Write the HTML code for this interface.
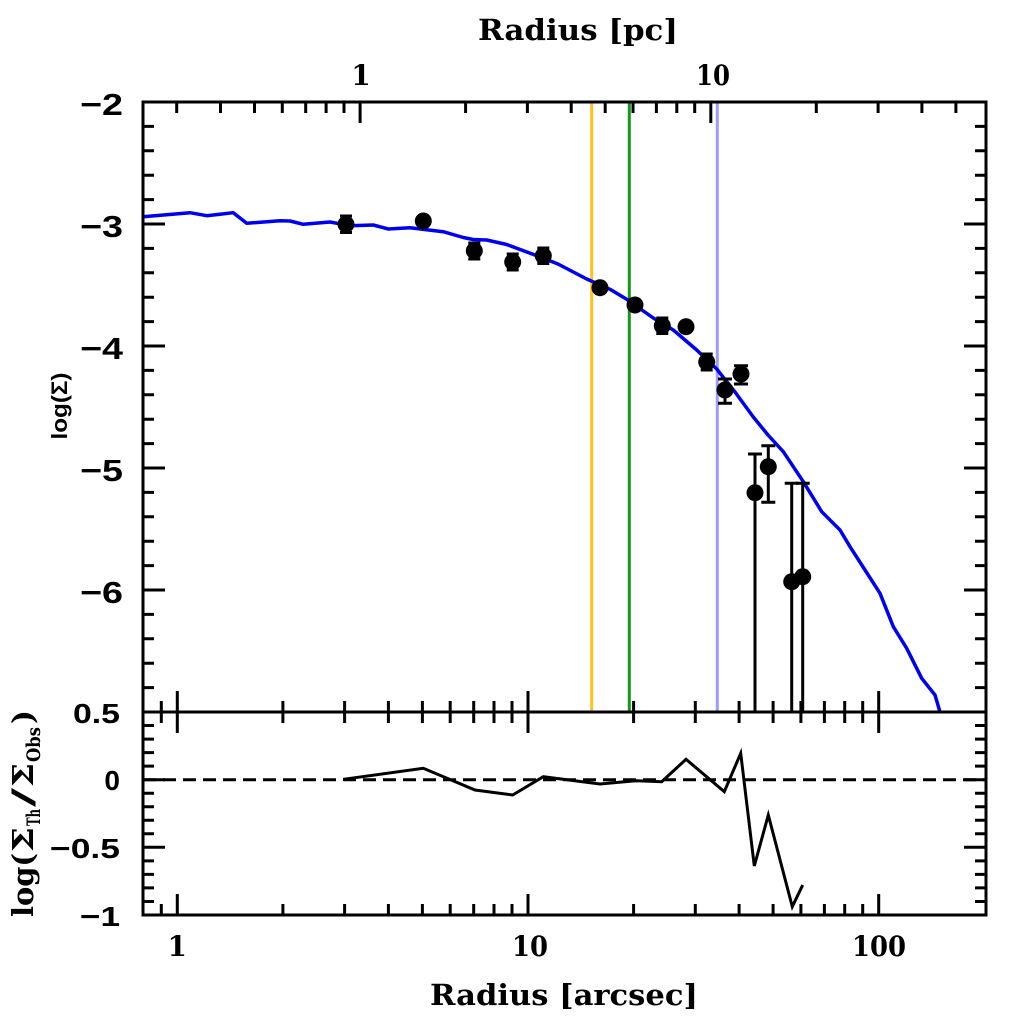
<!DOCTYPE html>
<html>
<head>
<meta charset="utf-8">
<style>
  html, body { margin: 0; padding: 0; background: #ffffff; }
  svg { display: block; }
  .ser { font-family: "DejaVu Serif", "Liberation Serif", serif; font-weight: bold; fill: #000; }
  .san { font-family: "Liberation Sans", "DejaVu Sans", sans-serif; font-weight: bold; fill: #000; }
</style>
</head>
<body>
<svg width="1024" height="1024" viewBox="0 0 1024 1024" xmlns="http://www.w3.org/2000/svg">
  <rect x="0" y="0" width="1024" height="1024" fill="#ffffff"/>

  <!-- vertical reference lines -->
  <line x1="591.7" y1="102" x2="591.7" y2="712" stroke="#FFC21A" stroke-width="3"/>
  <line x1="629.3" y1="102" x2="629.3" y2="712" stroke="#139A13" stroke-width="3"/>
  <line x1="717.3" y1="102" x2="717.3" y2="712" stroke="#9C9CFF" stroke-width="3"/>

  <!-- model curve -->
  <polyline fill="none" stroke="#0000F0" stroke-width="3.5" stroke-linejoin="round"
    points="143,216.7 190,212.7 206.7,215.7 220,214.3 233.3,212.7 246.7,223.3 280,220.7 290,221 303.3,224.3 330,222 350,225.7 373.3,225 388.3,229 410,227.7 443.3,231.7 463.3,237.5 473.3,239.5 486.7,240 506.7,244.5 536.7,255.7 558,264 586.7,279 610,289.3 626.7,299.3 653.3,318 673.3,330 696.7,350 716.7,369 735,392 753.3,417 768,435 783.3,451.7 803.3,481.7 821.7,511.7 840,530 850,546.7 865,570 880,593.3 893.3,626.7 906.7,648.3 921.7,678.3 935,695 940,712"/>

  <!-- error bars -->
  <g stroke="#000" stroke-width="3" fill="none">
    <path d="M346 216V232.5 M340 216H352 M340 232.5H352"/>
    <path d="M474.3 243V259 M468.3 243H480.3 M468.3 259H480.3"/>
    <path d="M512.7 254V270 M506.7 254H518.7 M506.7 270H518.7"/>
    <path d="M543.3 248V263.5 M537.3 248H549.3 M537.3 263.5H549.3"/>
    <path d="M662.3 318V333.5 M656.3 318H668.3 M656.3 333.5H668.3"/>
    <path d="M706.7 354V370 M700.7 354H712.7 M700.7 370H712.7"/>
    <path d="M725 379V403.3 M718 379H732 M718 403.3H732"/>
    <path d="M741 365.7V384 M734 365.7H748 M734 384H748"/>
    <path d="M755 454V712 M748 454H762"/>
    <path d="M768.3 445.7V502.3 M761.3 445.7H775.3 M761.3 502.3H775.3"/>
    <path d="M791.7 483.3V712 M784.7 483.3H798.7"/>
    <path d="M802.7 483.3V712 M795.7 483.3H809.7"/>
  </g>

  <!-- data points -->
  <g fill="#000">
    <circle cx="346" cy="224.3" r="8.5"/>
    <circle cx="423.3" cy="221" r="8.5"/>
    <circle cx="474.3" cy="250.7" r="8.5"/>
    <circle cx="512.7" cy="262" r="8.5"/>
    <circle cx="543.3" cy="255.7" r="8.5"/>
    <circle cx="600" cy="287.7" r="8.5"/>
    <circle cx="635" cy="305" r="8.5"/>
    <circle cx="662.3" cy="325.7" r="8.5"/>
    <circle cx="686" cy="326.7" r="8.5"/>
    <circle cx="706.7" cy="362" r="8.5"/>
    <circle cx="725" cy="390" r="8.5"/>
    <circle cx="741" cy="374" r="8.5"/>
    <circle cx="755" cy="492.7" r="8.5"/>
    <circle cx="768.3" cy="466.7" r="8.5"/>
    <circle cx="791.7" cy="581.7" r="8.5"/>
    <circle cx="802.7" cy="576.7" r="8.5"/>
  </g>

  <!-- residual panel -->
  <line x1="143" y1="779.7" x2="986" y2="779.7" stroke="#000" stroke-width="3" stroke-dasharray="13 7"/>
  <polyline fill="none" stroke="#000" stroke-width="3" stroke-linejoin="miter"
    points="343.3,779.3 423.3,768.3 475,790 512.7,795 543.3,776.7 600,784 636.7,780.7 661.7,781.7 686,759.3 724.3,791.7 740.7,753.3 754.3,866 768.3,815 792.3,906.7 802.7,885"/>

  <!-- frames -->
  <g stroke="#000" stroke-width="3" fill="none">
    <rect x="143" y="102" width="843" height="813"/>
    <line x1="143" y1="712" x2="986" y2="712"/>
  </g>

  <!-- ticks -->
  <g stroke="#000" stroke-width="3" fill="none">
    <path d="M143 126.4h11M143 150.8h11M143 175.2h11M143 199.6h11M143 248.4h11M143 272.8h11M143 297.2h11M143 321.6h11M143 370.4h11M143 394.8h11M143 419.2h11M143 443.6h11M143 492.4h11M143 516.8h11M143 541.2h11M143 565.6h11M143 614.4h11M143 638.8h11M143 663.2h11M143 687.6h11"/>
    <path d="M986 126.4h-11M986 150.8h-11M986 175.2h-11M986 199.6h-11M986 248.4h-11M986 272.8h-11M986 297.2h-11M986 321.6h-11M986 370.4h-11M986 394.8h-11M986 419.2h-11M986 443.6h-11M986 492.4h-11M986 516.8h-11M986 541.2h-11M986 565.6h-11M986 614.4h-11M986 638.8h-11M986 663.2h-11M986 687.6h-11"/>
    <path d="M143 102h22M143 224h22M143 346h22M143 468h22M143 590h22M143 712h22"/>
    <path d="M986 102h-22M986 224h-22M986 346h-22M986 468h-22M986 590h-22M986 712h-22"/>
    <path d="M143 725.5h11M143 739.1h11M143 752.6h11M143 766.1h11M143 793.2h11M143 806.7h11M143 820.3h11M143 833.8h11M143 860.9h11M143 874.4h11M143 887.9h11M143 901.5h11"/>
    <path d="M986 725.5h-11M986 739.1h-11M986 752.6h-11M986 766.1h-11M986 793.2h-11M986 806.7h-11M986 820.3h-11M986 833.8h-11M986 860.9h-11M986 874.4h-11M986 887.9h-11M986 901.5h-11"/>
    <path d="M143 779.7h22M143 847.3h22M143 915h22"/>
    <path d="M986 779.7h-22M986 847.3h-22M986 915h-22"/>

    <path d="M176.7 102v11M220.5 102v11M254.5 102v11M282.3 102v11M305.7 102v11M326.1 102v11M344 102v11M465.6 102v11M527.4 102v11M571.2 102v11M605.2 102v11M633 102v11M656.4 102v11M676.8 102v11M694.7 102v11M816.3 102v11M878.1 102v11M921.9 102v11M955.9 102v11"/>
    <path d="M360.1 102v21M710.8 102v21"/>

    <path d="M161.3 712v-11M282.9 712v-11M344.6 712v-11M388.4 712v-11M422.4 712v-11M450.2 712v-11M473.7 712v-11M494 712v-11M512 712v-11M633.6 712v-11M695.3 712v-11M739.1 712v-11M773.1 712v-11M800.9 712v-11M824.4 712v-11M844.7 712v-11M862.7 712v-11"/>
    <path d="M177.3 712v-21M528 712v-21M878.7 712v-21"/>
    <path d="M161.3 712v11M282.9 712v11M344.6 712v11M388.4 712v11M422.4 712v11M450.2 712v11M473.7 712v11M494 712v11M512 712v11M633.6 712v11M695.3 712v11M739.1 712v11M773.1 712v11M800.9 712v11M824.4 712v11M844.7 712v11M862.7 712v11"/>
    <path d="M177.3 712v21M528 712v21M878.7 712v21"/>
    <path d="M161.3 915v-11M282.9 915v-11M344.6 915v-11M388.4 915v-11M422.4 915v-11M450.2 915v-11M473.7 915v-11M494 915v-11M512 915v-11M633.6 915v-11M695.3 915v-11M739.1 915v-11M773.1 915v-11M800.9 915v-11M824.4 915v-11M844.7 915v-11M862.7 915v-11"/>
    <path d="M177.3 915v-21M528 915v-21M878.7 915v-21"/>
  </g>

  <!-- top axis labels -->
  <text class="ser" x="478" y="40" font-size="29" textLength="200" lengthAdjust="spacingAndGlyphs">Radius [pc]</text>
  <text class="ser" x="361" y="85" font-size="28" text-anchor="middle">1</text>
  <text class="ser" x="713" y="85" font-size="28" text-anchor="middle" textLength="34" lengthAdjust="spacingAndGlyphs">10</text>

  <!-- bottom axis labels -->
  <text class="ser" x="177.3" y="956" font-size="28" text-anchor="middle">1</text>
  <text class="ser" x="530" y="956" font-size="28" text-anchor="middle" textLength="36" lengthAdjust="spacingAndGlyphs">10</text>
  <text class="ser" x="879" y="956" font-size="28" text-anchor="middle" textLength="54" lengthAdjust="spacingAndGlyphs">100</text>
  <text class="ser" x="430" y="1005" font-size="29" textLength="268" lengthAdjust="spacingAndGlyphs">Radius [arcsec]</text>

  <!-- main y tick labels -->
  <g class="san" font-size="31" text-anchor="end">
    <text x="123" y="115" textLength="43" lengthAdjust="spacingAndGlyphs">−2</text>
    <text x="123" y="237" textLength="43" lengthAdjust="spacingAndGlyphs">−3</text>
    <text x="123" y="359" textLength="43" lengthAdjust="spacingAndGlyphs">−4</text>
    <text x="123" y="481" textLength="43" lengthAdjust="spacingAndGlyphs">−5</text>
    <text x="123" y="603" textLength="43" lengthAdjust="spacingAndGlyphs">−6</text>
  </g>
  <!-- residual y tick labels -->
  <g class="san" font-size="28" text-anchor="end">
    <text x="120" y="723" textLength="47" lengthAdjust="spacingAndGlyphs">0.5</text>
    <text x="120" y="790">0</text>
    <text x="120" y="858" textLength="70" lengthAdjust="spacingAndGlyphs">−0.5</text>
    <text x="120" y="926" textLength="40" lengthAdjust="spacingAndGlyphs">−1</text>
  </g>

  <!-- main y label -->
  <text class="san" font-size="22" text-anchor="middle" transform="translate(67,406) rotate(-90)" textLength="67" lengthAdjust="spacingAndGlyphs">log(Σ)</text>

  <!-- residual y label -->
  <g transform="translate(33,917) rotate(-90)" class="ser">
    <text x="0" y="0" font-size="29" textLength="64" lengthAdjust="spacingAndGlyphs">log(</text>
    <text x="65" y="0" font-size="29" textLength="25" lengthAdjust="spacingAndGlyphs">Σ</text>
    <text x="91" y="7" font-size="19" textLength="17" lengthAdjust="spacingAndGlyphs">Th</text>
    <text x="110" y="0" font-size="29" textLength="19" lengthAdjust="spacingAndGlyphs">/</text>
    <text x="130" y="0" font-size="29" textLength="24" lengthAdjust="spacingAndGlyphs">Σ</text>
    <text x="155" y="7" font-size="19" textLength="35" lengthAdjust="spacingAndGlyphs">Obs</text>
    <text x="193" y="0" font-size="29" textLength="14" lengthAdjust="spacingAndGlyphs">)</text>
  </g>
</svg>
</body>
</html>
